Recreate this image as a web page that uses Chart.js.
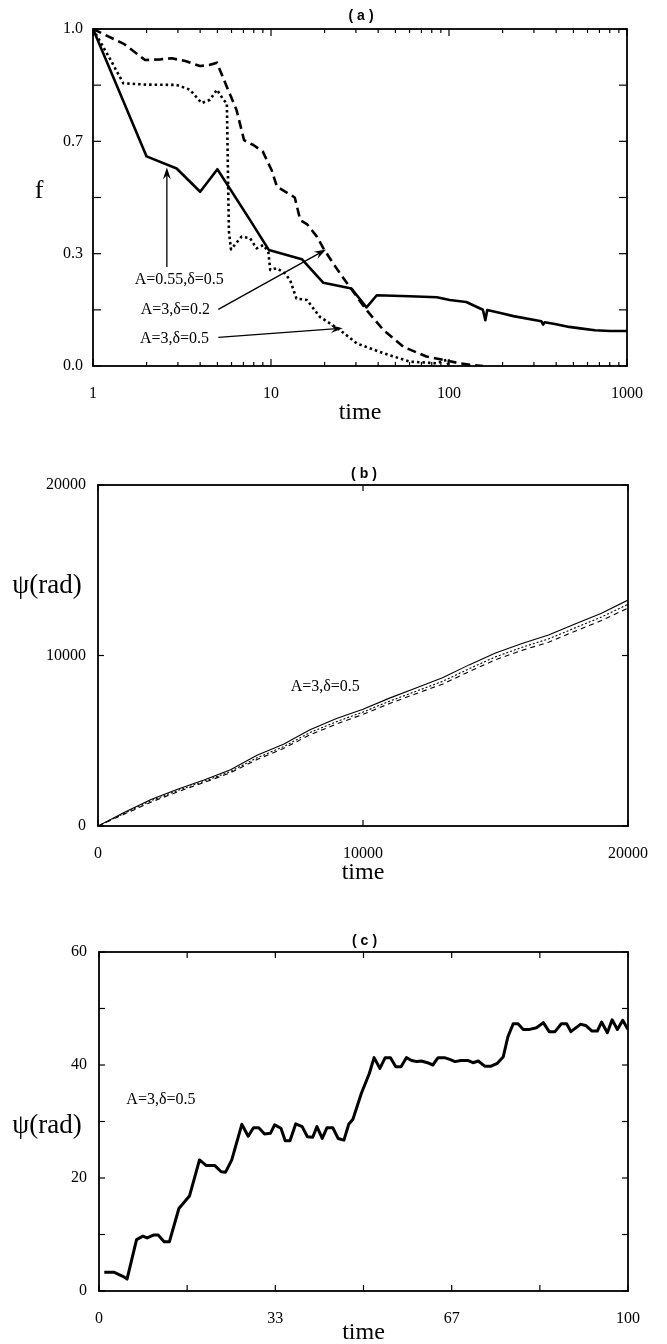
<!DOCTYPE html>
<html><head><meta charset="utf-8">
<script src="https://cdn.jsdelivr.net/npm/chart.js@4.4.1/dist/chart.umd.min.js"></script>
<style>
html,body{margin:0;padding:0;background:#fff;}
#wrap{position:relative;width:667px;height:1344px;background:#fff;}
canvas{position:absolute;left:0;}
</style></head><body>
<div id="wrap">
<canvas id="ca" width="667" height="440" style="top:0px"></canvas>
<canvas id="cb" width="667" height="470" style="top:440px"></canvas>
<canvas id="cc" width="667" height="434" style="top:910px"></canvas>
</div>
<script>
// ---------- Panel (a) data ----------
const aXTicks = [1, 10, 100, 1000];
const aXTickLabels = ['1', '10', '100', '1000'];
const aYTicks = [0, 1/3, 2/3, 1];
const aYTickLabels = ['0.0', '0.3', '0.7', '1.0'];
const aLabels = ['A=0.55,\u03b4=0.5', 'A=3,\u03b4=0.2', 'A=3,\u03b4=0.5'];

const aSolidT = [1, 2, 2.95, 4, 5, 7.63, 9.74, 14.9, 19.7, 28.3, 34.4, 39.3, 60, 85.5, 101, 125, 155, 160, 164, 200, 230, 330, 338, 345, 400, 473, 560, 660, 800, 1000];
const aSolidF = [1.0, 0.622, 0.586, 0.517, 0.584, 0.433, 0.344, 0.317, 0.247, 0.23, 0.174, 0.21, 0.207, 0.204, 0.196, 0.19, 0.167, 0.136, 0.166, 0.156, 0.148, 0.133, 0.123, 0.130, 0.124, 0.116, 0.111, 0.106, 0.104, 0.104];

const aDashT = [1, 1.5, 1.96, 2.4, 2.77, 3.3, 3.99, 4.5, 4.97, 5.63, 6.4, 7.06, 8.0, 9.0, 10.1, 10.8, 12.2, 13.6, 14.6, 16.0, 18.1, 19.7, 22.0, 24.4, 29.0, 34.4, 42.8, 55.4, 74.7, 92.9, 115, 135, 155];
const aDashF = [1.0, 0.955, 0.908, 0.91, 0.913, 0.905, 0.89, 0.893, 0.90, 0.83, 0.76, 0.67, 0.655, 0.636, 0.58, 0.532, 0.515, 0.50, 0.433, 0.42, 0.384, 0.349, 0.31, 0.275, 0.22, 0.166, 0.107, 0.057, 0.028, 0.018, 0.008, 0.003, 0.0];

const aDotT = [1, 1.25, 1.48, 2.0, 2.95, 3.5, 4.08, 4.54, 4.97, 5.4, 5.65, 5.8, 5.96, 6.84, 7.63, 8.3, 9.06, 9.66, 9.9, 10.8, 11.96, 12.8, 13.9, 15.9, 18.8, 24.4, 30.3, 42.8, 60.2, 85.5, 97, 100];
const aDotF = [1.0, 0.91, 0.839, 0.835, 0.834, 0.82, 0.78, 0.79, 0.82, 0.79, 0.78, 0.40, 0.346, 0.384, 0.379, 0.349, 0.359, 0.339, 0.285, 0.29, 0.275, 0.255, 0.20, 0.196, 0.146, 0.107, 0.067, 0.038, 0.013, 0.008, 0.018, 0.0];

// ---------- Panel (b) data ----------
const bTicks = [0, 10000, 20000];
const bTickLabels = ['0', '10000', '20000'];
const bLabel = 'A=3,\u03b4=0.5';
const bTime = [0, 1000, 2000, 3000, 4000, 5000, 6000, 7000, 8000, 9000, 10000, 11000, 12000, 13000, 14000, 15000, 16000, 17000, 18000, 19000, 20000];
const bSolid = [0, 800, 1550, 2150, 2700, 3300, 4150, 4800, 5650, 6300, 6850, 7500, 8100, 8700, 9450, 10150, 10700, 11200, 11850, 12480, 13250];
const bDot   = [0, 750, 1480, 2080, 2620, 3200, 4000, 4650, 5480, 6120, 6680, 7320, 7900, 8480, 9220, 9920, 10480, 10970, 11620, 12260, 13000];
const bDash  = [0, 700, 1400, 2000, 2550, 3120, 3900, 4550, 5350, 5980, 6550, 7180, 7760, 8320, 9050, 9750, 10300, 10780, 11420, 12050, 12780];

// ---------- Panel (c) data ----------
const cXTicks = [0, 100/3, 200/3, 100];
const cXTickLabels = ['0', '33', '67', '100'];
const cYTicks = [0, 20, 40, 60];
const cYTickLabels = ['0', '20', '40', '60'];
const cLabel = 'A=3,\u03b4=0.5';
const cTime = [1.0, 2.9, 4.7, 5.3, 7.1, 8.3, 9.1, 10.3, 11.2, 12.3, 13.3, 15.1, 17.1, 19.0, 20.3, 21.9, 23.1, 23.9, 25.1, 27.0, 28.2, 29.2, 30.2, 31.3, 32.4, 33.2, 34.4, 35.2, 36.1, 37.2, 38.4, 39.4, 40.4, 41.2, 42.2, 43.1, 44.2, 45.2, 46.3, 47.2, 48.0, 49.6, 51.1, 52.0, 53.1, 54.1, 55.1, 56.1, 57.1, 58.1, 59.1, 60.1, 60.9, 62.1, 63.1, 64.1, 65.3, 66.3, 67.3, 68.4, 69.7, 70.7, 71.7, 72.9, 74.1, 75.3, 76.4, 77.3, 78.3, 79.2, 80.2, 81.4, 82.7, 84.0, 85.1, 86.2, 87.4, 88.4, 89.2, 91.0, 92.0, 93.2, 94.2, 95.0, 96.1, 97.0, 98.0, 99.0, 100];
const cPsi  = [3.3, 3.3, 2.5, 2.1, 9.1, 9.7, 9.4, 9.9, 9.9, 8.7, 8.7, 14.6, 16.8, 23.2, 22.2, 22.2, 21.1, 21.0, 23.2, 29.5, 27.4, 28.9, 28.9, 27.8, 27.9, 29.4, 28.8, 26.6, 26.6, 29.6, 29.1, 27.3, 27.2, 29.1, 27.0, 28.9, 28.9, 27.0, 26.7, 29.5, 30.4, 35.0, 38.5, 41.3, 39.4, 41.3, 41.3, 39.7, 39.7, 41.3, 40.8, 40.6, 40.7, 40.4, 40.0, 41.3, 41.3, 41.0, 40.6, 40.8, 40.8, 40.4, 40.7, 39.8, 39.8, 40.3, 41.4, 45.0, 47.3, 47.3, 46.3, 46.3, 46.6, 47.5, 45.9, 45.9, 47.3, 47.3, 45.9, 47.2, 47.0, 46.0, 46.0, 47.6, 45.7, 48.0, 46.3, 47.9, 46.3];

// ---------- helpers ----------
const SERIF = '"Liberation Serif","Times New Roman",serif';
const SANS = '"Liberation Sans","DejaVu Sans",Arial,sans-serif';
const pts = (xs, ys) => xs.map((x, i) => ({x: x, y: ys[i]}));

function line(ctx, x1, y1, x2, y2) { ctx.beginPath(); ctx.moveTo(x1, y1); ctx.lineTo(x2, y2); ctx.stroke(); }
function arrow(ctx, x1, y1, x2, y2) {
  ctx.lineWidth = 1.3;
  const ang = Math.atan2(y2 - y1, x2 - x1), L = 12, W = 4;
  const c = Math.cos(ang), s = Math.sin(ang);
  line(ctx, x1, y1, x2 - 6 * c, y2 - 6 * s);
  ctx.beginPath();
  ctx.moveTo(x2, y2);
  ctx.lineTo(x2 - L * c + W * s, y2 - L * s - W * c);
  ctx.lineTo(x2 - 0.65 * L * c, y2 - 0.65 * L * s);
  ctx.lineTo(x2 - L * c - W * s, y2 - L * s + W * c);
  ctx.closePath(); ctx.fill();
}

function frameTicks(o) {
  return {
    id: 'frameTicks',
    afterDatasetsDraw(chart) {
      const ctx = chart.ctx, a = chart.chartArea, x = chart.scales.x, y = chart.scales.y;
      ctx.save();
      ctx.strokeStyle = '#000';
      ctx.lineWidth = 1.2;
      (o.xMajor || []).forEach(v => { const p = x.getPixelForValue(v); line(ctx, p, a.bottom, p, a.bottom - o.xMajLen); line(ctx, p, a.top, p, a.top + o.xMajLen); });
      (o.xMinor || []).forEach(v => { const p = x.getPixelForValue(v); line(ctx, p, a.bottom, p, a.bottom - o.xMinLen); line(ctx, p, a.top, p, a.top + o.xMinLen); });
      (o.yMajor || []).forEach(v => { const p = y.getPixelForValue(v); line(ctx, a.left, p, a.left + o.yLen, p); line(ctx, a.right, p, a.right - o.yLen, p); });
      (o.yMinor || []).forEach(v => { const p = y.getPixelForValue(v); line(ctx, a.left, p, a.left + o.yLen, p); line(ctx, a.right, p, a.right - o.yLen, p); });
      ctx.lineWidth = 1.8;
      ctx.strokeRect(a.left, a.top, a.right - a.left, a.bottom - a.top);
      ctx.restore();
    }
  };
}

function overlay(o) {
  return {
    id: 'overlay',
    afterDraw(chart) {
      const ctx = chart.ctx, a = chart.chartArea, x = chart.scales.x, y = chart.scales.y;
      const cx = (a.left + a.right) / 2;
      ctx.save();
      ctx.fillStyle = '#000'; ctx.strokeStyle = '#000';
      ctx.textAlign = 'center'; ctx.textBaseline = 'middle';
      // panel title
      ctx.font = 'bold 14px ' + SANS;
      ctx.letterSpacing = '4px';
      ctx.fillText(o.title, cx + 3, a.top - o.titleGap);
      ctx.letterSpacing = '0px';
      // axis titles
      ctx.font = '24px ' + SERIF;
      ctx.fillText('time', cx, a.bottom + o.timeGap);
      ctx.font = o.yFont + 'px ' + SERIF;
      ctx.fillText(o.yTitle, o.yTitleX, (a.top + a.bottom) / 2 + o.yTitleDy);
      // annotations
      ctx.font = '16px ' + SERIF;
      (o.labels || []).forEach(l => ctx.fillText(l.text, x.getPixelForValue(l.x), y.getPixelForValue(l.y)));
      (o.arrows || []).forEach(r => arrow(ctx, x.getPixelForValue(r[0]), y.getPixelForValue(r[1]), x.getPixelForValue(r[2]), y.getPixelForValue(r[3])));
      ctx.restore();
    }
  };
}

function axis(type, min, max, ticks, labels, extra) {
  return Object.assign({
    type: type, min: min, max: max,
    grid: {display: false, drawTicks: false},
    border: {display: false},
    afterBuildTicks: s => { s.ticks = ticks.map(v => ({value: v})); },
    ticks: {autoSkip: false, maxRotation: 0, minRotation: 0, color: '#000',
      font: {family: SERIF, size: 16}, callback: (v, i) => labels[i]}
  }, extra);
}

function ds(data, width, dash) {
  return {data: data, borderColor: '#000', backgroundColor: '#000', borderWidth: width,
    borderDash: dash, pointRadius: 0, fill: false, tension: 0, borderCapStyle: 'butt', borderJoinStyle: 'round'};
}

const baseOpts = {responsive: false, devicePixelRatio: 1, animation: false,
  plugins: {legend: {display: false}, tooltip: {enabled: false}, title: {display: false}}};

// ---------- minor tick values ----------
const aXMinor = [];
[1, 10, 100].forEach(d => { for (let k = 2; k <= 9; k++) aXMinor.push(d * k); });
const aYMinor = [1/6, 3/6, 5/6];

// ---------- Chart (a) ----------
new Chart(document.getElementById('ca'), {
  type: 'line',
  data: {datasets: [ds(pts(aSolidT, aSolidF), 2.6, []), ds(pts(aDashT, aDashF), 2.6, [9, 5]), ds(pts(aDotT, aDotF), 2.6, [2.5, 3])]},
  options: Object.assign({}, baseOpts, {
    layout: {padding: {left: 0, right: 40, top: 29, bottom: 0}},
    scales: {
      x: axis('logarithmic', 1, 1000, aXTicks, aXTickLabels, {afterFit: s => { s.height = 74; }}),
      y: axis('linear', 0, 1, aYTicks, aYTickLabels, {afterFit: s => { s.width = 93; }})
    }
  }),
  plugins: [
    {id: 'pad', beforeInit(c) { c.options.scales.x.ticks.padding = 18; c.options.scales.y.ticks.padding = 10; }},
    frameTicks({xMajor: aXTicks, xMinor: aXMinor, yMajor: aYTicks, yMinor: aYMinor, xMajLen: 7, xMinLen: 4, yLen: 8}),
    overlay({title: '(a)', titleGap: 13, timeGap: 47, yTitle: 'f', yFont: 26, yTitleX: 39, yTitleDy: -6,
      labels: [{text: aLabels[0], x: 3.05, y: 0.256}, {text: aLabels[1], x: 2.9, y: 0.166}, {text: aLabels[2], x: 2.87, y: 0.082}],
      arrows: [[2.6, 0.294, 2.6, 0.589], [5.06, 0.168, 20.4, 0.346], [5.06, 0.085, 25.3, 0.112]]})
  ]
});

// ---------- Chart (b) ----------
new Chart(document.getElementById('cb'), {
  type: 'line',
  data: {datasets: [ds(pts(bTime, bSolid), 1.1, []), ds(pts(bTime, bDot), 1.1, [2, 2]), ds(pts(bTime, bDash), 1.1, [5, 4])]},
  options: Object.assign({}, baseOpts, {
    layout: {padding: {left: 0, right: 39, top: 45, bottom: 0}},
    scales: {
      x: axis('linear', 0, 20000, bTicks, bTickLabels, {afterFit: s => { s.height = 84; }}),
      y: axis('linear', 0, 20000, bTicks, bTickLabels, {afterFit: s => { s.width = 98; }})
    }
  }),
  plugins: [
    {id: 'pad', beforeInit(c) { c.options.scales.x.ticks.padding = 18; c.options.scales.y.ticks.padding = 12; }},
    frameTicks({xMajor: bTicks, yMajor: bTicks, xMajLen: 6, xMinLen: 0, yLen: 6}),
    overlay({title: '(b)', titleGap: 11, timeGap: 47, yTitle: '\u03c8(rad)', yFont: 27, yTitleX: 47, yTitleDy: -70,
      labels: [{text: bLabel, x: 8576, y: 8145}]})
  ]
});

// ---------- Chart (c) ----------
const cXMinor = [100/6, 50, 500/6];
const cYMinor = [10, 30, 50];
new Chart(document.getElementById('cc'), {
  type: 'line',
  data: {datasets: [ds(pts(cTime, cPsi), 3, [])]},
  options: Object.assign({}, baseOpts, {
    layout: {padding: {left: 0, right: 39, top: 42, bottom: 0}},
    scales: {
      x: axis('linear', 0, 100, cXTicks, cXTickLabels, {afterFit: s => { s.height = 53; }}),
      y: axis('linear', 0, 60, cYTicks, cYTickLabels, {afterFit: s => { s.width = 99; }})
    }
  }),
  plugins: [
    {id: 'pad', beforeInit(c) { c.options.scales.x.ticks.padding = 18; c.options.scales.y.ticks.padding = 12; }},
    frameTicks({xMajor: cXTicks, xMinor: cXMinor, yMajor: cYTicks, yMinor: cYMinor, xMajLen: 6, xMinLen: 6, yLen: 6}),
    overlay({title: '(c)', titleGap: 11, timeGap: 42, yTitle: '\u03c8(rad)', yFont: 27, yTitleX: 47, yTitleDy: 4,
      labels: [{text: cLabel, x: 11.7, y: 33.9}]})
  ]
});
</script>
</body></html>
